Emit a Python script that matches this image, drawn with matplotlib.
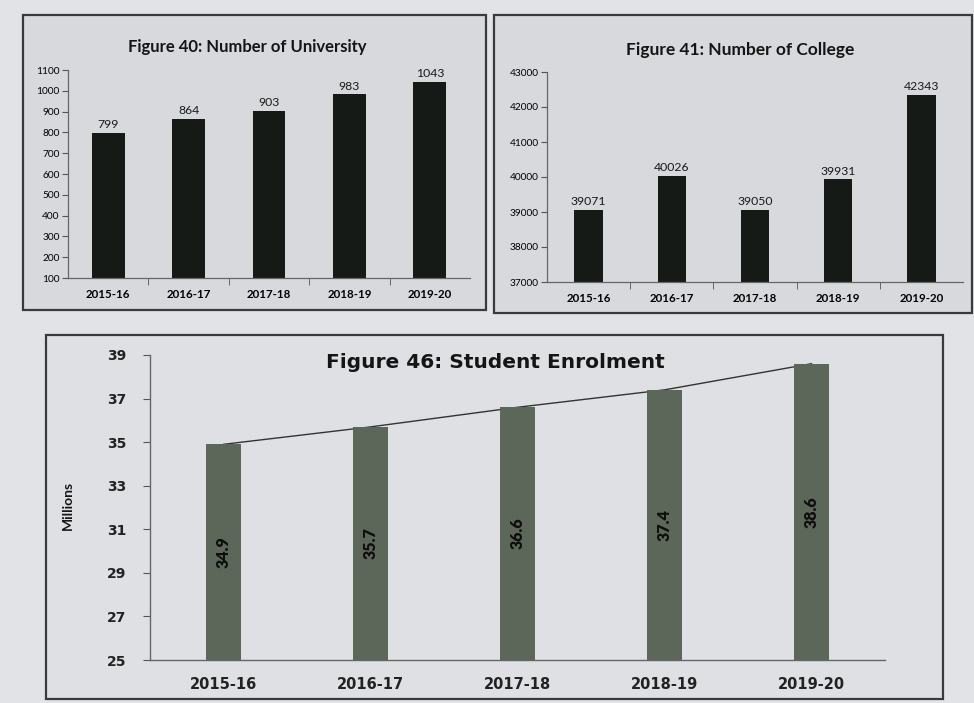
import numpy as np
import matplotlib
matplotlib.use("Agg")
import matplotlib.pyplot as plt
from matplotlib.patches import Rectangle

years = ["2015-16", "2016-17", "2017-18", "2018-19", "2019-20"]
universities = [799, 864, 903, 983, 1043]
colleges = [39071, 40026, 39050, 39931, 42343]
enrolment = [34.9, 35.7, 36.6, 37.4, 38.6]

W, H = 974, 703
fig = plt.figure(figsize=(W / 100, H / 100), dpi=100, facecolor="#e2e3e6")


def box(x0, y0, x1, y1):
    # pixel box (top-left origin) -> figure fraction
    return [x0 / W, 1 - y1 / H, (x1 - x0) / W, (y1 - y0) / H]


def panel(x0, y0, x1, y1, color):
    l, b, w, h = box(x0, y0, x1, y1)
    fig.patches.append(Rectangle((l, b), w, h, transform=fig.transFigure,
                                 facecolor=color, edgecolor="#3a3a3a", lw=1.6, zorder=-5))


def small_axes(ax, vals, lo, hi, step, bw):
    x = np.arange(len(years))
    bars = ax.bar(x, vals, width=bw, color="#151a17", zorder=2)
    ax.bar_label(bars, labels=[str(v) for v in vals], padding=2,
                 fontsize=8.8, family="Lato", color="#1a1a1a")
    ax.set_ylim(lo, hi)
    ax.set_yticks(np.arange(lo, hi + 1, step))
    ax.set_xlim(-0.5, len(years) - 0.5)
    ax.set_xticks(x)
    ax.set_xticklabels(years, fontsize=8.3, family="Lato", fontweight="bold")
    ax.set_xticks(np.arange(0.5, len(years) - 0.5, 1), minor=True)
    ax.tick_params(axis="x", which="major", length=0, pad=8)
    ax.tick_params(axis="x", which="minor", length=5, color="#555555")
    ax.tick_params(axis="y", length=4, color="#555555", labelsize=7.3, pad=2)
    for lab in ax.get_yticklabels():
        lab.set_family("Lato")
    for s in ("top", "right"):
        ax.spines[s].set_visible(False)
    for s in ("left", "bottom"):
        ax.spines[s].set_color("#666666")
        ax.spines[s].set_linewidth(0.9)
    ax.set_facecolor("none")


# Figure 40
panel(23, 15, 486, 310, "#d8d9dc")
ax1 = fig.add_axes(box(68, 70, 470, 278))
small_axes(ax1, universities, 100, 1100, 100, 0.41)
fig.text(247 / W, 1 - 47 / H, "Figure 40: Number of University", ha="center", va="center",
         fontsize=12, family="Lato", fontweight="bold", color="#151515")

# Figure 41
panel(494, 15, 972, 313, "#d8d9dc")
ax2 = fig.add_axes(box(547, 72, 963, 282))
small_axes(ax2, colleges, 37000, 43000, 1000, 0.34)
fig.text(740 / W, 1 - 50 / H, "Figure 41: Number of College", ha="center", va="center",
         fontsize=12.5, family="Lato", fontweight="bold", color="#151515")

# Figure 46
panel(46, 335, 943, 699, "#dfe0e3")
ax3 = fig.add_axes(box(150, 355, 885, 660))
x = np.arange(len(years))
ax3.plot(x, enrolment, color="#333333", lw=1.0, zorder=1)
bars = ax3.bar(x, enrolment, width=0.24, color="#5d6759", zorder=2)
ax3.bar_label(bars, labels=[f"{v:.1f}" for v in enrolment], label_type="center",
              rotation=90, fontsize=11.5, family="Lato", fontweight="heavy", color="#0e0e0e")
ax3.set_ylim(25, 39)
ax3.set_yticks(np.arange(25, 40, 2))
ax3.set_xlim(-0.5, len(years) - 0.5)
ax3.set_xticks(x)
ax3.set_xticklabels(years)
ax3.tick_params(axis="x", length=0, pad=12, labelsize=10.5)
ax3.tick_params(axis="y", length=5, color="#555555", labelsize=10, pad=12)
for lab in ax3.get_xticklabels() + ax3.get_yticklabels():
    lab.set_fontweight("bold")
    lab.set_color("#222222")
for s in ("top", "right"):
    ax3.spines[s].set_visible(False)
for s in ("left", "bottom"):
    ax3.spines[s].set_color("#666666")
    ax3.spines[s].set_linewidth(1.0)
ax3.set_facecolor("none")
fig.text(68 / W, 1 - 505 / H, "Millions", rotation=90, ha="center", va="center",
         fontsize=10, family="Lato", fontweight="bold", color="#151515")
fig.text(495 / W, 1 - 362 / H, "Figure 46: Student Enrolment", ha="center", va="center",
         fontsize=14.5, fontweight="bold", color="#151515")

fig.savefig("out.png", dpi=100, facecolor=fig.get_facecolor())
